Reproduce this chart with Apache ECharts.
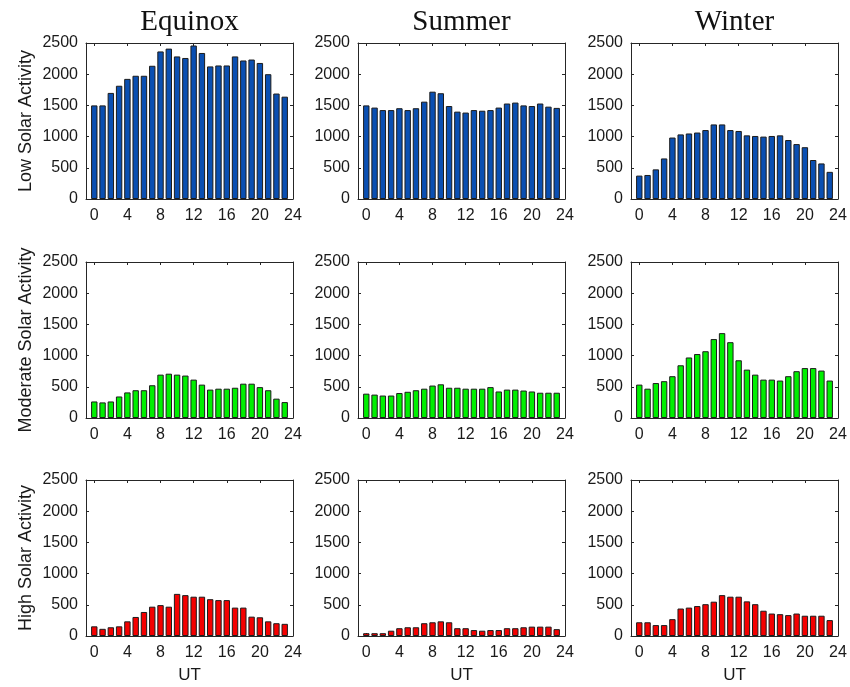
<!DOCTYPE html>
<html>
<head>
<meta charset="utf-8">
<title>Hourly values by season and solar activity</title>
<script src="https://cdn.jsdelivr.net/npm/echarts@6/dist/echarts.min.js"></script>
<style>
  html, body { margin: 0; padding: 0; background: #ffffff; }
  #chart { width: 850px; height: 687px; }
</style>
</head>
<body>
<div id="chart"></div>
<script>
// Universal time of each bar (hours)
const hours = [0, 1, 2, 3, 4, 5, 6, 7, 8, 9, 10, 11, 12, 13, 14, 15, 16, 17, 18, 19, 20, 21, 22, 23];
const hourTicks = [0, 4, 8, 12, 16, 20, 24];

const seasons = ['Equinox', 'Summer', 'Winter'];
const activityLevels = ['Low Solar Activity', 'Moderate Solar Activity', 'High Solar Activity'];

// Low solar activity
const equinoxLow = [1500, 1500, 1700, 1815, 1925, 1975, 1975, 2135, 2365, 2410, 2285, 2260, 2460, 2340, 2125, 2140, 2140, 2285, 2220, 2235, 2180, 2000, 1690, 1640];
const summerLow = [1500, 1465, 1425, 1425, 1455, 1425, 1455, 1560, 1720, 1695, 1490, 1400, 1385, 1425, 1415, 1425, 1465, 1530, 1545, 1500, 1490, 1530, 1480, 1460];
const winterLow = [375, 385, 475, 650, 985, 1035, 1050, 1065, 1105, 1195, 1195, 1105, 1090, 1020, 1010, 1000, 1010, 1020, 945, 880, 830, 625, 570, 435];

// Moderate solar activity
const equinoxModerate = [265, 250, 265, 345, 410, 445, 445, 525, 695, 710, 695, 680, 615, 535, 455, 470, 470, 485, 550, 550, 495, 445, 310, 255];
const summerModerate = [390, 375, 360, 360, 400, 420, 445, 470, 520, 540, 485, 485, 470, 470, 470, 495, 425, 455, 455, 440, 425, 405, 405, 405];
const winterModerate = [535, 470, 560, 590, 670, 845, 970, 1025, 1070, 1265, 1360, 1215, 925, 775, 695, 615, 615, 600, 670, 750, 800, 800, 760, 600];

// High solar activity
const equinoxHigh = [155, 115, 140, 155, 235, 305, 385, 470, 495, 470, 675, 655, 630, 630, 590, 575, 575, 455, 455, 310, 300, 235, 205, 195];
const summerHigh = [45, 45, 45, 85, 125, 140, 140, 205, 220, 235, 220, 125, 125, 95, 85, 95, 95, 125, 125, 140, 150, 150, 150, 110];
const winterHigh = [220, 220, 175, 175, 270, 440, 455, 480, 510, 550, 655, 630, 630, 555, 510, 405, 360, 350, 335, 360, 325, 325, 325, 255];

const panelValues = [
  [equinoxLow, summerLow, winterLow],
  [equinoxModerate, summerModerate, winterModerate],
  [equinoxHigh, summerHigh, winterHigh]
];
const rowColors = ['#0a4fb2', '#00f000', '#f50000'];

// Panel geometry (pixels)
const colLeft = [86, 358, 631];
const rowTop = [43, 262, 480];
const panelW = 207;
const panelH = 156;

const axisColor = '#262626';
const textColor = '#1a1a1a';
const sansFont = 'Liberation Sans, Arial, sans-serif';

const grids = [], xAxes = [], yAxes = [], series = [], titles = [];
const plainNumber = v => String(v);

for (let r = 0; r < 3; r++) {
  for (let c = 0; c < 3; c++) {
    const g = grids.length;
    grids.push({ left: colLeft[c], top: rowTop[r], width: panelW, height: panelH, containLabel: false });

    const tickCommon = { show: true, inside: true, length: 3, lineStyle: { color: axisColor, width: 1 } };

    // bottom axis with hour labels
    xAxes.push({
      type: 'value', gridIndex: g, min: -1, max: 24, position: 'bottom',
      axisLine: { show: true, onZero: false, lineStyle: { color: axisColor, width: 1 } },
      axisTick: Object.assign({ customValues: hourTicks }, tickCommon),
      axisLabel: { customValues: hourTicks, formatter: plainNumber, fontSize: 16, color: textColor, margin: 9, fontFamily: sansFont },
      splitLine: { show: false },
      name: r === 2 ? 'UT' : '',
      nameLocation: 'middle', nameGap: 31,
      nameTextStyle: { fontSize: 17, color: textColor, fontFamily: sansFont }
    });
    // top edge of the box
    xAxes.push({
      type: 'value', gridIndex: g, min: -1, max: 24, position: 'top',
      axisLine: { show: true, onZero: false, lineStyle: { color: axisColor, width: 1 } },
      axisTick: Object.assign({ customValues: hourTicks }, tickCommon),
      axisLabel: { show: false }, splitLine: { show: false }
    });
    // left axis with value labels
    yAxes.push({
      type: 'value', gridIndex: g, min: 0, max: 2500, interval: 500, position: 'left',
      axisLine: { show: true, onZero: false, lineStyle: { color: axisColor, width: 1 } },
      axisTick: tickCommon,
      axisLabel: { formatter: plainNumber, fontSize: 16, color: textColor, margin: 8, fontFamily: sansFont },
      splitLine: { show: false },
      name: c === 0 ? activityLevels[r] : '',
      nameLocation: 'middle', nameRotate: 90, nameGap: 51,
      nameTextStyle: { fontSize: 18, color: textColor, fontFamily: sansFont }
    });
    // right edge of the box
    yAxes.push({
      type: 'value', gridIndex: g, min: 0, max: 2500, interval: 500, position: 'right',
      axisLine: { show: true, onZero: false, lineStyle: { color: axisColor, width: 1 } },
      axisTick: tickCommon,
      axisLabel: { show: false }, splitLine: { show: false }
    });

    series.push({
      type: 'bar',
      xAxisIndex: 2 * g,
      yAxisIndex: 2 * g,
      barWidth: 6.4,
      data: hours.map((h, i) => [h, panelValues[r][c][i]]),
      itemStyle: { color: rowColors[r], borderColor: '#1c1c1c', borderWidth: 1 },
      silent: true,
      animation: false
    });
  }
}

seasons.forEach((s, c) => {
  titles.push({
    text: s,
    left: colLeft[c] + panelW / 2,
    top: 8,
    textAlign: 'center',
    padding: 0,
    textStyle: { fontSize: 29, fontWeight: 'normal', color: '#111', fontFamily: 'Liberation Serif, Times New Roman, serif' }
  });
});

const chart = echarts.init(document.getElementById('chart'), null, { renderer: 'canvas' });
chart.setOption({
  backgroundColor: '#ffffff',
  animation: false,
  title: titles,
  grid: grids,
  xAxis: xAxes,
  yAxis: yAxes,
  series: series
});
</script>
</body>
</html>
